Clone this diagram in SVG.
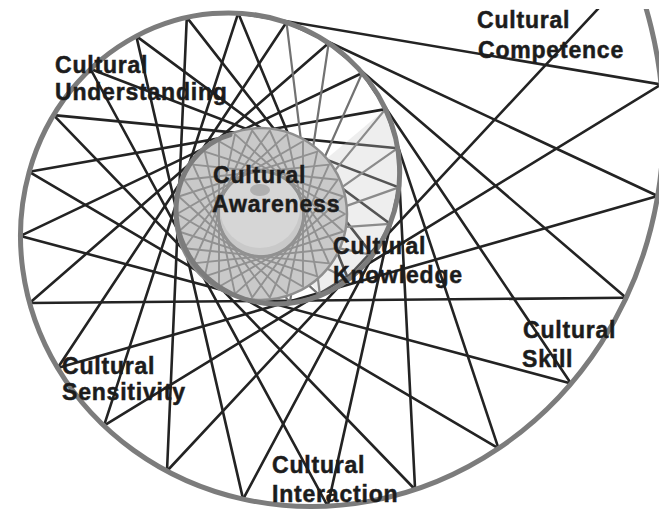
<svg xmlns="http://www.w3.org/2000/svg" width="659" height="512" viewBox="0 0 659 512">
<style>
.bg{fill:#ffffff}
.dark line{stroke:#232323;stroke-width:2.6;stroke-linecap:round}
.light line{stroke:#727272;stroke-width:2.2;stroke-linecap:round}
.spiral{fill:none;stroke:#7c7c7c;stroke-width:5;stroke-linecap:round}
.star{fill:none;stroke:#919191;stroke-width:1.9;stroke-linejoin:round}
.lbl{font-family:"Liberation Sans",Arial,sans-serif;font-weight:bold;font-size:23px;letter-spacing:0.8px;fill:#1c1c1c;stroke:#1c1c1c;stroke-width:0.5}
</style>
<defs>
<clipPath id="crop"><rect x="0" y="9" width="659" height="503"/></clipPath>
</defs>
<rect class="bg" width="659" height="512"/>
<g clip-path="url(#crop)">
<g id="connectors">
<g class="dark">
<line x1="633.2" y1="-28.9" x2="167" y2="471"/>
<line x1="661" y1="84.5" x2="104" y2="425.7"/>
<line x1="657.7" y1="196" x2="57.6" y2="368"/>
<line x1="626.1" y1="297.8" x2="29.6" y2="303"/>
<line x1="571" y1="383.5" x2="20.5" y2="235.9"/>
<line x1="498.5" y1="448.4" x2="29.2" y2="171.8"/>
<line x1="415.1" y1="489.5" x2="53.6" y2="115.1"/>
<line x1="327.7" y1="506.1" x2="90.5" y2="69"/>
<line x1="243.1" y1="499.1" x2="136.3" y2="36.1"/>
<line x1="167" y1="471" x2="186.8" y2="17.4"/>
<line x1="104" y1="425.7" x2="238.2" y2="13.1"/>
<line x1="57.6" y1="368" x2="286.5" y2="22.3"/>
<line x1="29.6" y1="303" x2="328.7" y2="43"/>
<line x1="20.5" y1="235.9" x2="362.2" y2="73"/>
<line x1="29.2" y1="171.8" x2="385.5" y2="109.1"/>
<line x1="53.6" y1="115.1" x2="397.7" y2="148.2"/>
<line x1="90.5" y1="69" x2="398.8" y2="187.4"/>
<line x1="136.3" y1="36.1" x2="390" y2="223.8"/>
<line x1="186.8" y1="17.4" x2="372.5" y2="255.1"/>
<line x1="238.2" y1="13.1" x2="348.4" y2="279.4"/>
<line x1="661" y1="84.5" x2="238.2" y2="13.1"/>
<line x1="657.7" y1="196" x2="286.5" y2="22.3"/>
<line x1="626.1" y1="297.8" x2="328.7" y2="43"/>
<line x1="571" y1="383.5" x2="362.2" y2="73"/>
<line x1="498.5" y1="448.4" x2="385.5" y2="109.1"/>
<line x1="415.1" y1="489.5" x2="397.7" y2="148.2"/>
<line x1="327.7" y1="506.1" x2="398.8" y2="187.4"/>
<line x1="243.1" y1="499.1" x2="390" y2="223.8"/>
</g>
<g class="light">
<line x1="286.5" y1="22.3" x2="320" y2="295.6"/>
<line x1="328.7" y1="43" x2="289.8" y2="303.3"/>
<line x1="362.2" y1="73" x2="259.9" y2="302.7"/>
<line x1="385.5" y1="109.1" x2="232.6" y2="294.4"/>
<line x1="397.7" y1="148.2" x2="209.6" y2="279.9"/>
<line x1="398.8" y1="187.4" x2="192" y2="260.7"/>
<line x1="390" y1="223.8" x2="180.9" y2="238.4"/>
<line x1="372.5" y1="255.1" x2="176.2" y2="215.1"/>
<line x1="348.4" y1="279.4" x2="177.9" y2="192.5"/>
<line x1="320" y1="295.6" x2="185.2" y2="172"/>
<line x1="289.8" y1="303.3" x2="197.1" y2="155"/>
<line x1="259.9" y1="302.7" x2="212.5" y2="142.5"/>
</g>
</g>
<path id="crescent" d="M385.5,109.1 C403.5,147.8 403.7,189.2 390,223.8 C376.3,258.4 350.1,283.5 320,295.6 L261,214 Z" fill="#c8c8c8" fill-opacity="0.3"/>
<g id="awareness-core">
<circle cx="261" cy="214" r="86" fill="#c9c9c9" stroke="#8e8e8e" stroke-width="2.5"/>
<circle cx="260" cy="208" r="40" fill="#d6d6d6"/>
<ellipse cx="260" cy="190" rx="10" ry="6" fill="#8a8a8a" fill-opacity="0.5"/>
<polygon class="star" points="345,214 219,286.7 219,141.3"/>
<polygon class="star" points="343.2,231.5 204.8,276.4 235,134.1"/>
<polygon class="star" points="337.7,248.2 193,263.4 252.2,130.5"/>
<polygon class="star" points="329,263.4 184.3,248.2 269.8,130.5"/>
<polygon class="star" points="317.2,276.4 178.8,231.5 287,134.1"/>
<polygon class="star" points="303,286.7 177,214 303,141.3"/>
<polygon class="star" points="287,293.9 178.8,196.5 317.2,151.6"/>
<polygon class="star" points="269.8,297.5 184.3,179.8 329,164.6"/>
<polygon class="star" points="252.2,297.5 193,164.6 337.7,179.8"/>
<polygon class="star" points="235,293.9 204.8,151.6 343.2,196.5"/>
</g>
<path id="spiral" class="spiral" d="M573.6,-135.5 C649.9,-34.1 676.1,86.8 657.7,196 C639.3,305.2 578.7,394.4 498.5,448.4 C418.3,502.4 325.4,517.4 243.1,499.1 C160.8,480.8 95.5,431.1 57.6,368 C19.7,304.9 12,233.6 29.2,171.8 C46.4,110 86.9,62.3 136.3,36.1 C185.7,9.9 240.2,6.8 286.5,22.3 C332.8,37.8 367.5,70.4 385.5,109.1 C403.5,147.8 403.7,189.2 390,223.8 C376.3,258.4 350.1,283.5 320,295.6 C289.9,307.7 258.3,306.2 232.6,294.4 C206.9,282.6 188.9,261.8 180.9,238.4 C172.9,215 175.2,191.2 185.2,172 C195.2,152.8 211.9,140.1 229.9,134.9"/>
</g>
<g id="competence"><text class="lbl" x="477" y="28">Cultural</text><text class="lbl" x="478" y="58">Competence</text></g>
<g id="understanding"><text class="lbl" x="55" y="73">Cultural</text><text class="lbl" x="55" y="100">Understanding</text></g>
<g id="awareness"><text class="lbl" x="213" y="183">Cultural</text><text class="lbl" x="212" y="212">Awareness</text></g>
<g id="knowledge"><text class="lbl" x="333" y="254">Cultural</text><text class="lbl" x="333" y="283">Knowledge</text></g>
<g id="skill"><text class="lbl" x="523" y="338">Cultural</text><text class="lbl" x="522" y="367">Skill</text></g>
<g id="sensitivity"><text class="lbl" x="62" y="374">Cultural</text><text class="lbl" x="62" y="400">Sensitivity</text></g>
<g id="interaction"><text class="lbl" x="272" y="473">Cultural</text><text class="lbl" x="272" y="502">Interaction</text></g>
</svg>
